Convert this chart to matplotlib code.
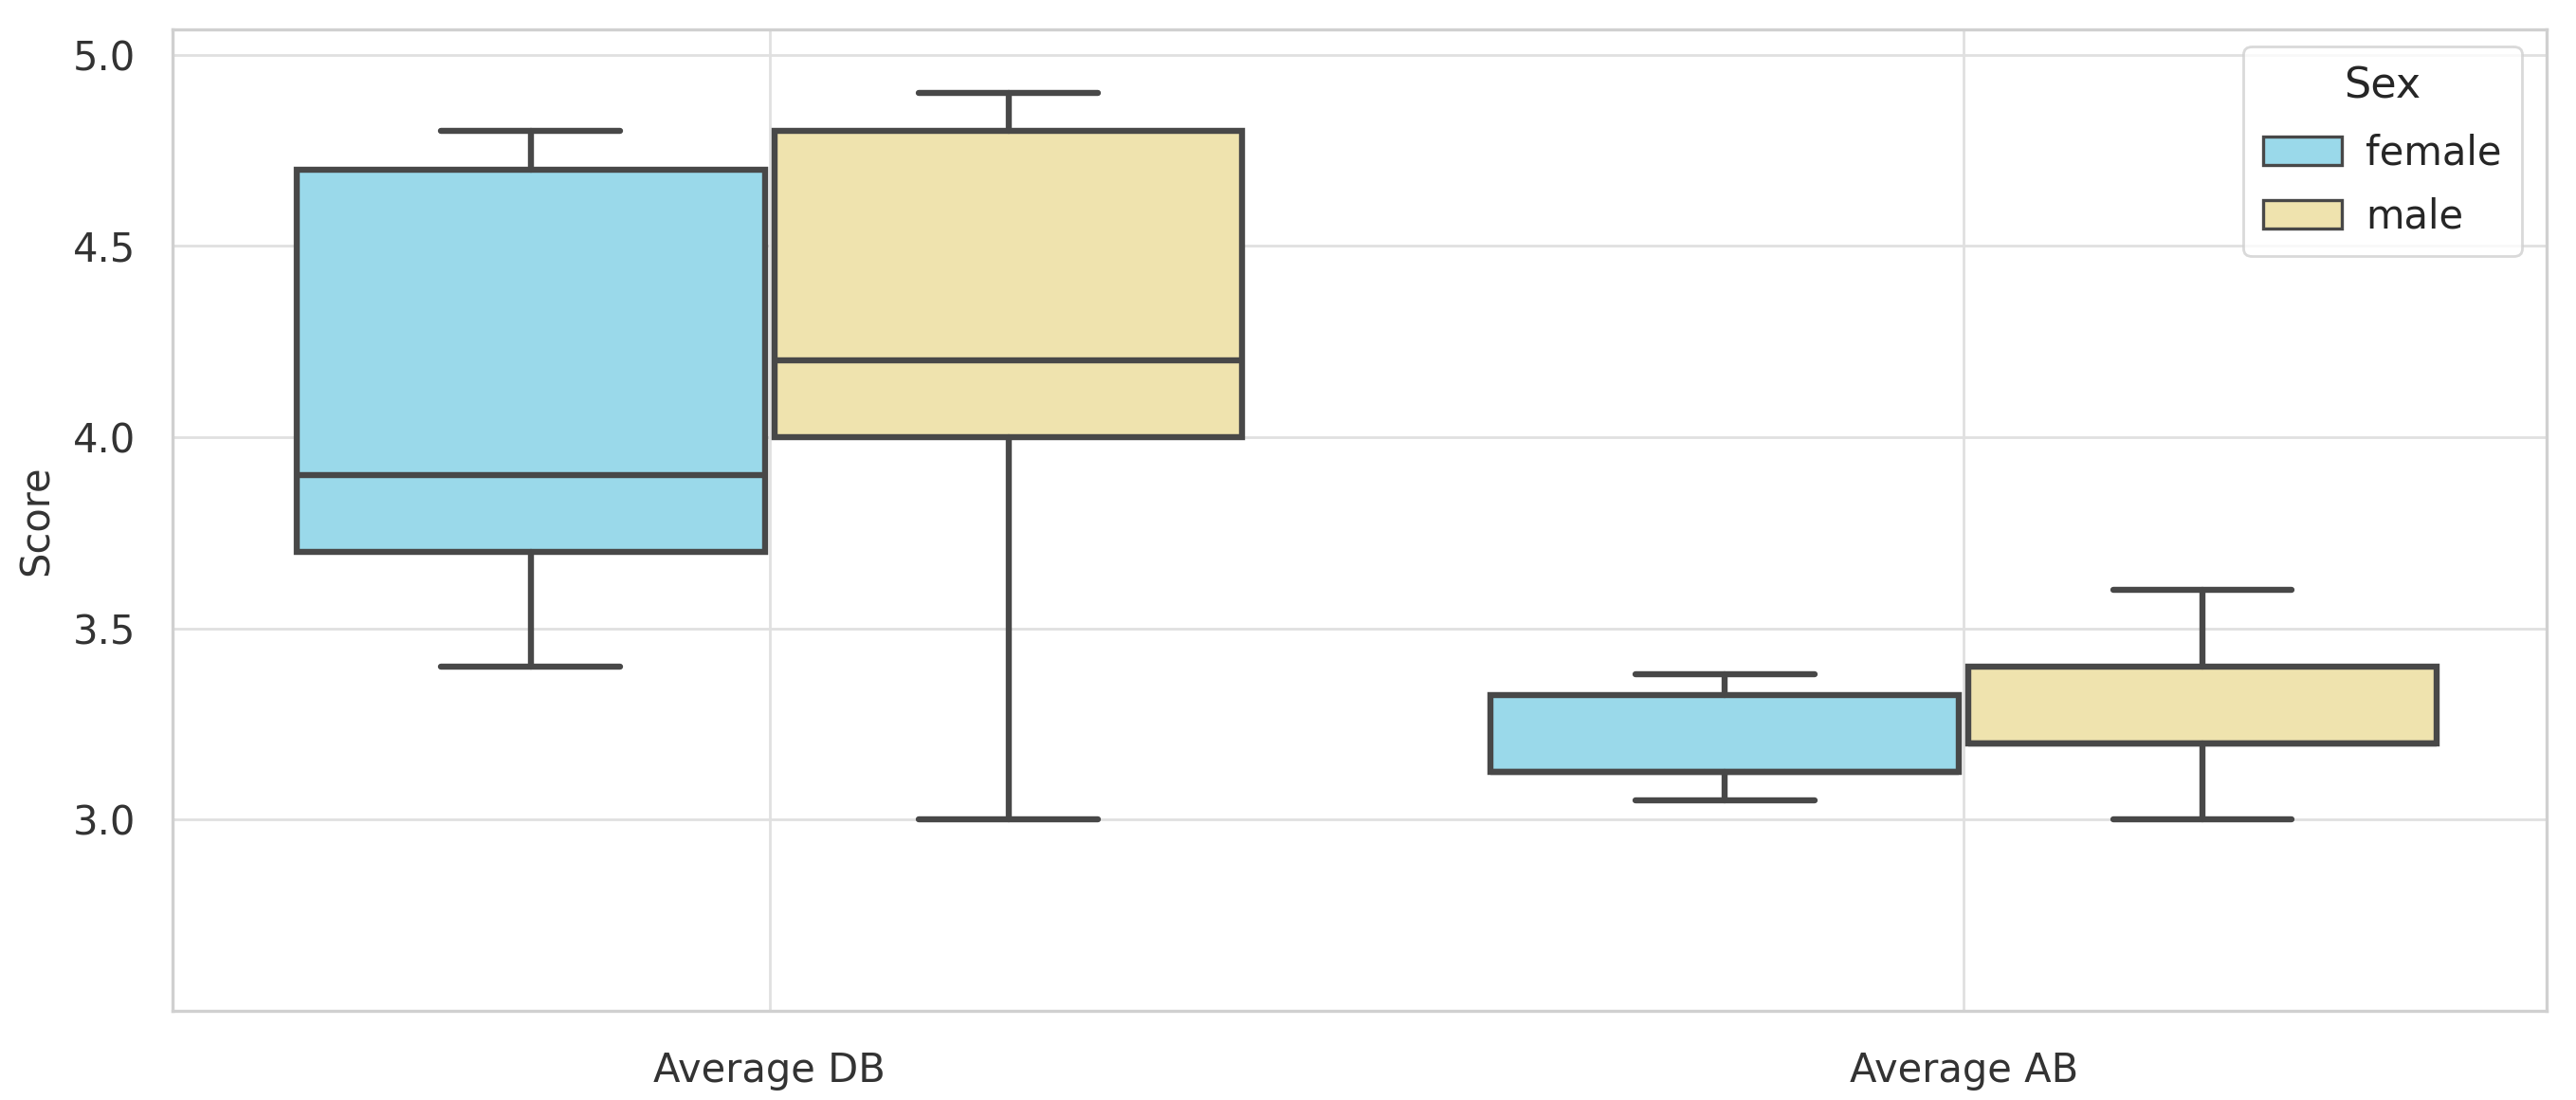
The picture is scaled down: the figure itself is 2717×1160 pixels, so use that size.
import matplotlib
matplotlib.use("Agg")
import matplotlib.pyplot as plt
from matplotlib.patches import Patch
import seaborn as sns

# data
categories = ["Average DB", "Average AB"]
sexes = ["female", "male"]
colors = {"female": "#9ad9ea", "male": "#efe3ae"}

# per sex: one value per category
whislo = {"female": [3.4, 3.05], "male": [3.0, 3.0]}
q1 = {"female": [3.7, 3.125], "male": [4.0, 3.2]}
med = {"female": [3.9, 3.125], "male": [4.2, 3.2]}
q3 = {"female": [4.7, 3.325], "male": [4.8, 3.4]}
whishi = {"female": [4.8, 3.38], "male": [4.9, 3.6]}

sns.set_theme(style="whitegrid")
plt.rcParams['font.family'] = ['DejaVu Sans']

fig = plt.figure(figsize=(13.585, 5.8), dpi=200)
ax = fig.add_axes([0.067, 0.081, 0.9215, 0.892])

line_col = "#484848"
lw = 2.3
offsets = {"female": -0.2, "male": 0.2}
for s in sexes:
    stats = []
    for i, c in enumerate(categories):
        stats.append(dict(label=c, whislo=whislo[s][i], q1=q1[s][i], med=med[s][i],
                          q3=q3[s][i], whishi=whishi[s][i], fliers=[]))
    pos = [i + offsets[s] for i in range(len(categories))]
    ax.bxp(stats, positions=pos, widths=0.392, patch_artist=True, showfliers=False,
           manage_ticks=False,
           boxprops=dict(facecolor=colors[s], edgecolor=line_col, linewidth=lw),
           medianprops=dict(color=line_col, linewidth=lw),
           whiskerprops=dict(color=line_col, linewidth=lw),
           capprops=dict(color=line_col, linewidth=lw),
           capwidths=0.15)

ax.set_xlim(-0.5, 1.488)
ax.set_ylim(2.5, 5.065)
ax.set_xticks(range(len(categories)))
ax.set_xticklabels(categories, fontsize=15, color="#333333")
ax.set_yticks([3.0, 3.5, 4.0, 4.5, 5.0])
ax.set_yticklabels(["3.0", "3.5", "4.0", "4.5", "5.0"], fontsize=15, color="#333333")
ax.set_ylabel("Score", fontsize=15, color="#333333", labelpad=6)
ax.tick_params(axis="x", pad=9)
ax.tick_params(axis="y", pad=8)
ax.grid(True, color="#e0e0e0", linewidth=1.0)
for sp in ax.spines.values():
    sp.set_color("#d0d0d0")
    sp.set_linewidth(1.2)

handles = [Patch(facecolor=colors[s], edgecolor=line_col, linewidth=1.2, label=s) for s in sexes]
leg = ax.legend(handles=handles, title="Sex", loc="upper right", fontsize=15,
                title_fontsize=16, bbox_to_anchor=(0.9896, 0.983), borderaxespad=0,
                frameon=True, handleheight=0.75, labelspacing=0.6,
                handletextpad=0.6, borderpad=0.5)
leg.get_frame().set_edgecolor("#d0d0d0")
leg._legend_box.sep = 10

fig.savefig("out.png", dpi=200)
